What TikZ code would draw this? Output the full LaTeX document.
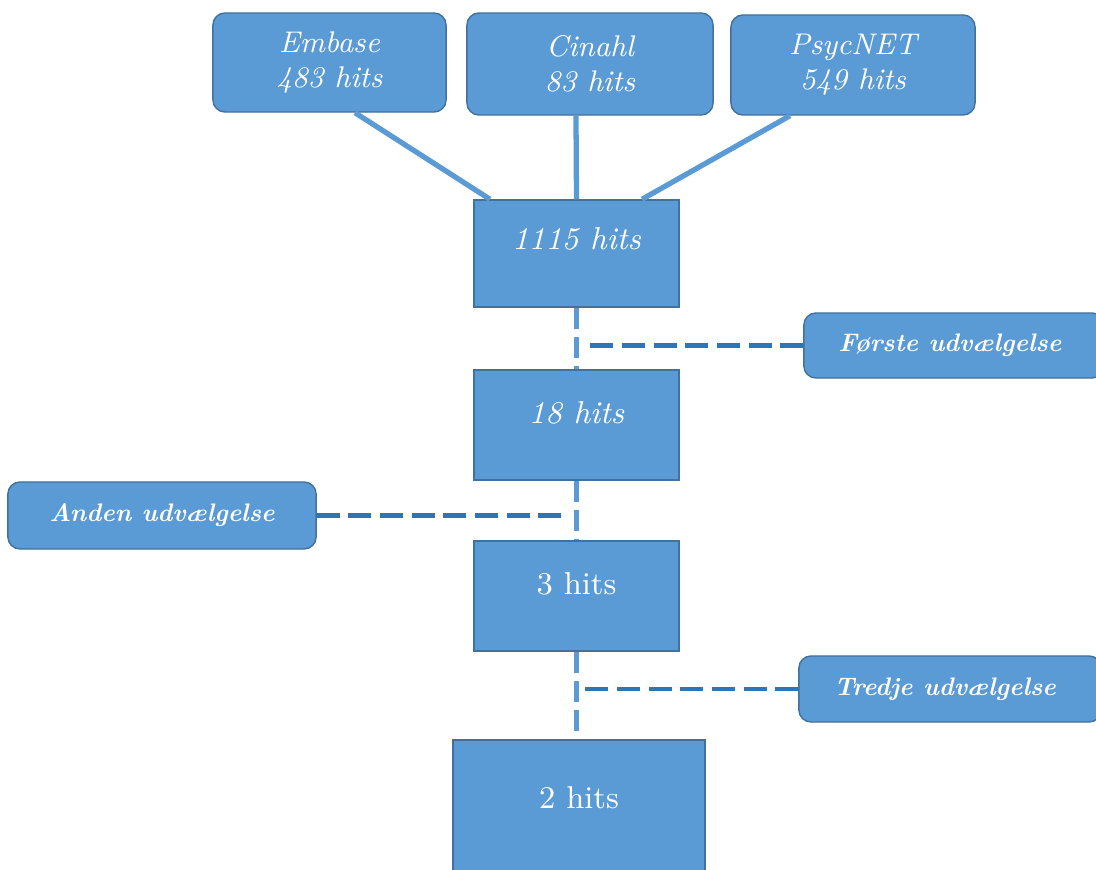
\documentclass[tikz,border=0pt]{standalone}
\usepackage{tikz}
\usetikzlibrary{calc}
\definecolor{boxblue}{HTML}{5B9BD5}
\definecolor{edgeblue}{HTML}{41719C}
\definecolor{dashblue}{HTML}{2E75B6}
\begin{document}
\begin{tikzpicture}[x=0.01cm,y=-0.01cm,
    dbbox/.style={draw=edgeblue,line width=0.4pt,fill=boxblue,rounded corners=0.12cm,inner sep=0pt,
      text=white,align=center,font=\fontsize{8.5}{10}\selectfont\itshape},
    hitbox/.style={draw=edgeblue,line width=0.4pt,fill=boxblue,inner sep=0pt,minimum width=2.05cm},
    hittext/.style={text=white,anchor=center,inner sep=0pt,font=\fontsize{9}{11}\selectfont},
    selbox/.style={draw=edgeblue,line width=0.4pt,fill=boxblue,rounded corners=0.12cm,inner sep=0pt,
      text=white,font=\fontsize{7.2}{9}\selectfont\bfseries\itshape},
    link/.style={boxblue,line width=1.5pt},
    flow/.style={boxblue,line width=1.5pt,dash pattern=on 6pt off 2.3pt},
    sel/.style={dashblue,line width=1.2pt,dash pattern=on 6.5pt off 2.5pt}]
  \useasboundingbox (0,0) rectangle (1096,870);
  \clip (0,0) rectangle (1096,870);

  % databases
  \node[dbbox,minimum width=2.33cm,minimum height=0.99cm] (emb) at (329.5,62.5) {Embase\\483 hits};
  \node[dbbox,minimum width=2.46cm,minimum height=1.02cm] (cin) at (590,64) {Cinahl\\83 hits};
  \node[dbbox,minimum width=2.44cm,minimum height=1.00cm] (psy) at (853,65) {PsycNET\\549 hits};

  % hits
  \node[hitbox,minimum height=1.07cm,label={[hittext,yshift=-0.4cm]north:{\itshape 1115 hits}}] (h1115) at (576.5,253.5) {};
  \node[hitbox,minimum height=1.10cm,label={[hittext,yshift=-0.44cm]north:{\itshape 18 hits}}] (h18) at (576.5,425) {};
  \node[hitbox,minimum height=1.10cm,label={[hittext,yshift=-0.44cm]north:{3 hits}}] (h3) at (576.5,596) {};
  \node[hitbox,minimum width=2.52cm,minimum height=1.45cm,label={[hittext,yshift=-0.58cm]north:{2 hits}}] (h2) at (579,812.5) {};

  % udvaelgelser
  \node[selbox,minimum width=3.00cm,minimum height=0.65cm] (forste) at (954,345.5) {\hspace*{-0.08cm}Første udvælgelse};
  \node[selbox,minimum width=3.08cm,minimum height=0.67cm] (anden) at (162,515.5) {Anden udvælgelse};
  \node[selbox,minimum width=3.02cm,minimum height=0.66cm] (tredje) at (950,689) {\hspace*{-0.1cm}Tredje udvælgelse};

  \draw[link] ([xshift=0.255cm]emb.south) -- ([xshift=-0.865cm]h1115.north);
  \draw[link] ([xshift=-0.14cm]cin.south) -- (h1115.north);
  \draw[link] ([xshift=-0.63cm]psy.south) -- ([xshift=0.655cm]h1115.north);

  \draw[flow] (h1115.south) -- (h18.north);
  \draw[flow] (h18.south) -- (h3.north);
  \draw[flow] (h3.south) -- (h3.south |- h2.north);

  \draw[sel] (forste.west) -- ([xshift=0.08cm]forste.west -| h1115.south);
  \draw[sel] (anden.east) -- ([xshift=-0.12cm]anden.east -| h18.south);
  \draw[sel] (tredje.west) -- ([xshift=0.08cm]tredje.west -| h3.south);
\end{tikzpicture}
\end{document}
